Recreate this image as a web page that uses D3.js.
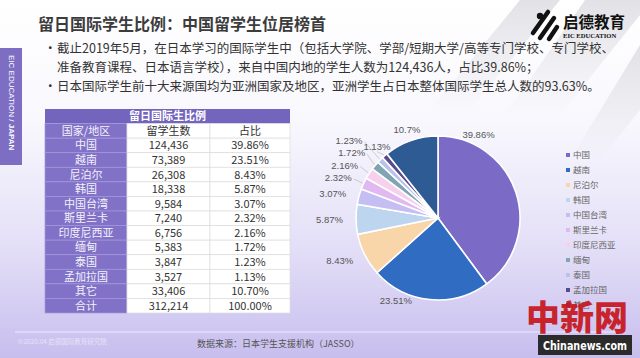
<!DOCTYPE html>
<html><head><meta charset="utf-8">
<script src="https://cdn.jsdelivr.net/npm/d3@7"></script>
<style>html,body{margin:0;padding:0;background:#fff;}svg{display:block;font-family:"Noto Sans CJK SC","Noto Sans",sans-serif;}</style>
</head><body><svg id="c" width="640" height="358"></svg>
<script>
// ---------- data ----------
const categories = ["中国","越南","尼泊尔","韩国","中国台湾","斯里兰卡","印度尼西亚","缅甸","泰国","孟加拉国","其它"];
const studentCounts = [124436,73389,26308,18338,9584,7240,6756,5383,3847,3527,33406];
const sharePercents = [39.86,23.51,8.43,5.87,3.07,2.32,2.16,1.72,1.23,1.13,10.70];
const totalLabel = "合计";
const totalCount = 312214;
const totalShare = 100.00;
const tableTitle = "留日国际生比例";
const tableHeaders = ["国家/地区","留学生数","占比"];
const titleText = "留日国际学生比例：中国留学生位居榜首";
const bulletLines = [
  ["•","截止2019年5月，在日本学习的国际学生中（包括大学院、学部/短期大学/高等专门学校、专门学校、"],
  ["","准备教育课程、日本语言学校），来自中国内地的学生人数为124,436人，占比39.86%；"],
  ["•","日本国际学生前十大来源国均为亚洲国家及地区，亚洲学生占日本整体国际学生总人数的93.63%。"]
];
const sourceText = "数据来源：日本学生支援机构（JASSO）";
const copyrightText = "©2020.04 启德国际教育研究院";
const sideText = ["EIC EDUCATION / ","JAPAN"];

// ---------- styles ----------
const sliceColors = ["#7b6bc6","#2f6cc2","#f9d6a9","#bdd5ef","#c4bef2","#dfb9f0","#f7d0ee","#7fa4b3","#b9c3ea","#5a4a8c","#2f5b95"];

const svg = d3.select("#c");
const W = 640, H = 358;
const defs = svg.append("defs");
const bg = defs.append("linearGradient").attr("id","bg").attr("x1",0).attr("y1",0).attr("x2",0).attr("y2",1);
[[0,"#ffffff"],[0.35,"#f8f7fd"],[0.7,"#e3def7"],[1,"#c7beee"]].forEach(s=>bg.append("stop").attr("offset",s[0]).attr("stop-color",s[1]));
svg.append("rect").attr("width",W).attr("height",H).attr("fill","url(#bg)");

// decorative stripes top-right
const sg = defs.append("linearGradient").attr("id","sg").attr("x1",0).attr("y1",0).attr("x2",0).attr("y2",1);
sg.append("stop").attr("offset",0).attr("stop-color","#cfcfd6").attr("stop-opacity",0.6);
sg.append("stop").attr("offset",1).attr("stop-color","#cfcfd6").attr("stop-opacity",0);
[[[520,0],[560,0],[470,110],[430,110]],[[585,0],[640,0],[640,15],[560,115],[505,115]],[[640,45],[640,110],[600,160],[570,160]]]
 .forEach(p=>svg.append("polygon").attr("points",p.map(q=>q.join(",")).join(" ")).attr("fill","url(#sg)"));

// side bar
svg.append("rect").attr("x",0).attr("y",48).attr("width",22).attr("height",117).attr("fill","#7d6ec4");
const st = svg.append("text").attr("transform","translate(9,55) rotate(90)").attr("fill","#fff").attr("font-size",8).attr("font-family","Liberation Sans, Arial, sans-serif");
st.append("tspan").text(sideText[0]);
st.append("tspan").attr("font-weight","bold").text(sideText[1]);

// title
svg.append("text").attr("x",38).attr("y",30).attr("font-size",16).attr("font-weight","bold").attr("fill","#3c3c3c").text(titleText);

// logo
const lg = svg.append("g");
lg.append("circle").attr("cx",540).attr("cy",16).attr("r",3.2).attr("fill","#111");
[[[548,12],[533,33]],[[554,18],[540,38]],[[557,27],[549,39]]].forEach(l=>lg.append("line").attr("x1",l[0][0]).attr("y1",l[0][1]).attr("x2",l[1][0]).attr("y2",l[1][1]).attr("stroke","#111").attr("stroke-width",4.5).attr("stroke-linecap","round"));
lg.append("text").attr("x",563).attr("y",28).attr("font-size",15.5).attr("font-weight","bold").attr("fill","#111").text("启德教育");
lg.append("text").attr("x",563).attr("y",38).attr("font-size",6.6).attr("font-weight","bold").attr("font-family","Liberation Serif, serif").attr("fill","#111").text("EIC EDUCATION");

// bullets
const bl = svg.append("g").attr("font-size",12.5).attr("fill","#333");
const lineY = d3.scalePoint().domain(d3.range(bulletLines.length)).range([53,91]);
bulletLines.forEach((l,i)=>{
  if(l[0]) bl.append("text").attr("x",44).attr("y",lineY(i)).text(l[0]);
  bl.append("text").attr("x",57).attr("y",lineY(i)).text(l[1]);
});

// ---------- table ----------
const fmtInt = d3.format(",");
const fmtPct = d3.format(".2f");
const rows = [];
rows.push({type:"title", cells:[tableTitle]});
rows.push({type:"head", cells:tableHeaders});
categories.forEach((c,i)=>rows.push({type:"data", cells:[c, fmtInt(studentCounts[i]), fmtPct(sharePercents[i])+"%"]}));
rows.push({type:"data", cells:[totalLabel, fmtInt(totalCount), fmtPct(totalShare)+"%"]});
const colX = [45,127,210,290];
const ry = d3.scaleBand().domain(d3.range(rows.length)).range([109,313]);
const tg = svg.append("g").attr("font-size",11);
rows.forEach((r,i)=>{
  const y = ry(i), h = ry.bandwidth();
  if(r.type==="title"){
    tg.append("rect").attr("x",colX[0]).attr("y",y).attr("width",colX[3]-colX[0]).attr("height",h).attr("fill","#7364bd");
    tg.append("text").attr("x",(colX[0]+colX[3])/2).attr("y",y+h/2).attr("dy","0.36em").attr("text-anchor","middle").attr("fill","#fff").attr("font-weight","bold").text(r.cells[0]);
    return;
  }
  for(let c=0;c<3;c++){
    const purple = c===0;
    tg.append("rect").attr("x",colX[c]).attr("y",y).attr("width",colX[c+1]-colX[c]).attr("height",h)
      .attr("fill",purple?"#8172c7":"#ffffff").attr("stroke",purple?"#a497dc":"#dcdcdc").attr("stroke-width",0.7);
    tg.append("text").attr("x",(colX[c]+colX[c+1])/2).attr("y",y+h/2).attr("dy","0.36em").attr("text-anchor","middle")
      .attr("fill",purple?"#f3f1fb":"#333").text(r.cells[c]);
  }
});

// ---------- pie ----------
const cx = 438, cy = 218, R = 82;
const pieData = categories.map((c,i)=>({cat:c, share:sharePercents[i], color:sliceColors[i]}));
const arcs = d3.pie().sort(null).value(d=>d.share)(pieData);
const arc = d3.arc().innerRadius(0).outerRadius(R);
const pg = svg.append("g").attr("transform",`translate(${cx},${cy})`);
pg.selectAll("path").data(arcs).join("path").attr("d",arc).attr("fill",d=>d.data.color).attr("stroke","#fff").attr("stroke-width",1.6);

// labels
const labelFmt = v => (+v.toFixed(2)) + "%";
const bigAnchor = {0:0.18, 1:0.75}; // label anchor fraction along the two big slices
const pt = (a,r)=>[Math.sin(a)*r, -Math.cos(a)*r];
const LW = 23, GAP = 12.5;
const labels = arcs.map((d,i)=>{
  const text = labelFmt(d.data.share);
  if(bigAnchor[i]!==undefined){
    const a = d.startAngle + bigAnchor[i]*(d.endAngle-d.startAngle);
    const p = pt(a,93);
    return {i, a, x:p[0], y:p[1], anchor:"middle", text, leader:false};
  }
  const a = (d.startAngle+d.endAngle)/2;
  if(a > 1.765*Math.PI){ // near the top: centred above the slice
    const p = pt(a,94);
    return {i, a, x:p[0], y:p[1], anchor:"middle", text, leader:d.data.share<3, left:p[0]-LW/2};
  }
  const p = pt(a,95);
  return {i, a, x:p[0], y:p[1], anchor:"end", text, leader:d.data.share<3};
});
const tops = labels.filter(l=>l.anchor==="middle" && l.left!==undefined);
const side = labels.filter(l=>l.anchor==="end").sort((a,b)=>b.y-a.y);
const placed = [];
side.forEach(l=>{
  placed.forEach(p=>{
    const overlapX = !(l.x < p.x - LW || l.x - LW > p.x);
    if(overlapX && l.y > p.y - GAP) l.y = p.y - GAP;
  });
  tops.forEach(t=>{
    const overlapX = l.x > t.left && l.x - LW < t.left + LW;
    if(overlapX && Math.abs(l.y - t.y) < GAP) l.x = t.left - 3;
  });
  placed.push(l);
});
const lab = pg.append("g").attr("font-size",9.5).attr("fill","#555").attr("font-family","Liberation Sans, Arial, sans-serif");
labels.forEach(l=>{
  if(l.leader){
    const p0 = pt(l.a, R+1);
    const tx = l.anchor==="end" ? l.x+2 : l.x;
    const ty = l.anchor==="end" ? l.y+1 : l.y+5;
    lab.append("polyline").attr("points",`${p0[0]},${p0[1]} ${tx},${ty}`).attr("fill","none").attr("stroke","#b0b0b0").attr("stroke-width",0.6);
  }
  lab.append("text").attr("x",l.x).attr("y",l.y).attr("dy","0.35em").attr("text-anchor",l.anchor).text(l.text);
});

// legend
const ly = d3.scalePoint().domain(categories).range([155,305]);
const leg = svg.append("g").attr("font-size",8.5).attr("fill","#666");
categories.forEach((c,i)=>{
  leg.append("rect").attr("x",566).attr("y",ly(c)-2).attr("width",4).attr("height",4).attr("fill",sliceColors[i]);
  leg.append("text").attr("x",573).attr("y",ly(c)).attr("dy","0.35em").text(c);
});

// footer
svg.append("line").attr("x1",15).attr("x2",625).attr("y1",332).attr("y2",332).attr("stroke","#eeebfb").attr("stroke-width",1);
svg.append("text").attr("x",18).attr("y",344).attr("font-size",6.5).attr("fill","#e6e2f7").text(copyrightText);
svg.append("text").attr("x",197).attr("y",347).attr("font-size",9).attr("fill","#555").text(sourceText);

// watermark
svg.append("text").attr("x",526).attr("y",330).attr("font-size",34).attr("font-weight","900").attr("fill","#c8161d").attr("opacity",0.92).text("中新网");
svg.append("rect").attr("x",538).attr("y",335).attr("width",94).attr("height",20).attr("fill","#2b2b2b");
svg.append("text").attr("x",585).attr("y",349.5).attr("text-anchor","middle").attr("font-size",13).attr("font-weight","bold").attr("textLength",84).attr("lengthAdjust","spacingAndGlyphs").attr("font-family","Liberation Sans Narrow, DejaVu Sans Condensed, sans-serif").attr("fill","#fff").text("Chinanews.com");
</script></body></html>
